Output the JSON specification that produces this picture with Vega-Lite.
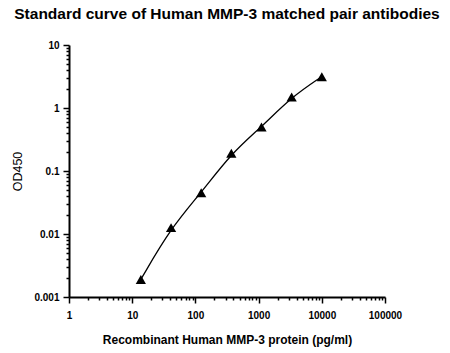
{
  "$schema": "https://vega.github.io/schema/vega-lite/v6.json",
  "width": 316,
  "height": 252,
  "autosize": "none",
  "padding": {"left": 69, "top": 45, "right": 65, "bottom": 56},
  "background": "white",
  "title": {
    "text": "Standard curve of Human MMP-3 matched pair antibodies",
    "font": "Liberation Sans",
    "fontSize": 15.5,
    "fontWeight": "bold",
    "color": "black",
    "anchor": "middle",
    "offset": 18
  },
  "config": {
    "view": {"stroke": null},
    "axis": {
      "domainColor": "black",
      "domainWidth": 2,
      "tickColor": "black",
      "tickWidth": 1.5,
      "grid": false,
      "labelFont": "Liberation Sans",
      "labelFontWeight": "bold",
      "labelFontSize": 10,
      "labelColor": "black",
      "titleFont": "Liberation Sans",
      "titleFontWeight": "bold",
      "titleFontSize": 12,
      "titleColor": "black",
      "labelOverlap": false,
      "labelFlush": false
    }
  },
  "data": {
    "values": [
      {"conc": 13.7, "od": 0.0019},
      {"conc": 41.2, "od": 0.0126},
      {"conc": 123.5, "od": 0.0451},
      {"conc": 370.4, "od": 0.191},
      {"conc": 1111, "od": 0.499},
      {"conc": 3333, "od": 1.496},
      {"conc": 10000, "od": 3.14}
    ]
  },
  "encoding": {
    "x": {
      "field": "conc",
      "type": "quantitative",
      "scale": {"type": "log", "domain": [1, 100000], "nice": false},
      "axis": {
        "title": "Recombinant Human MMP-3 protein (pg/ml)",
        "values": [1,2,3,4,5,6,7,8,9,10,20,30,40,50,60,70,80,90,100,200,300,400,500,600,700,800,900,1000,2000,3000,4000,5000,6000,7000,8000,9000,10000,20000,30000,40000,50000,60000,70000,80000,90000,100000],
        "labelExpr": "indexof([1,10,100,1000,10000,100000], datum.value) >= 0 ? format(datum.value, 'd') : ''",
        "tickSize": {"condition": {"test": "indexof([1,10,100,1000,10000,100000], datum.value) >= 0", "value": 6}, "value": 3},
        "labelPadding": 7,
        "titlePadding": 14
      }
    },
    "y": {
      "field": "od",
      "type": "quantitative",
      "scale": {"type": "log", "domain": [0.001, 10], "nice": false},
      "axis": {
        "title": "OD450",
        "titleFontWeight": "normal",
        "titleFontSize": 12.5,
        "values": [0.001,0.002,0.003,0.004,0.005,0.006,0.007,0.008,0.009,0.01,0.02,0.03,0.04,0.05,0.06,0.07,0.08,0.09,0.1,0.2,0.3,0.4,0.5,0.6,0.7,0.8,0.9,1,2,3,4,5,6,7,8,9,10],
        "labelExpr": "indexof([0.001,0.01,0.1,1,10], datum.value) >= 0 ? format(datum.value, '~g') : ''",
        "tickSize": {"condition": {"test": "indexof([0.001,0.01,0.1,1,10], datum.value) >= 0", "value": 6}, "value": 3},
        "labelPadding": 4,
        "titlePadding": 9
      }
    }
  },
  "layer": [
    {
      "mark": {"type": "line", "interpolate": "basis", "color": "black", "strokeWidth": 1.3}
    },
    {
      "mark": {"type": "point", "shape": "triangle-up", "filled": true, "color": "black", "opacity": 1, "size": 105}
    }
  ]
}
